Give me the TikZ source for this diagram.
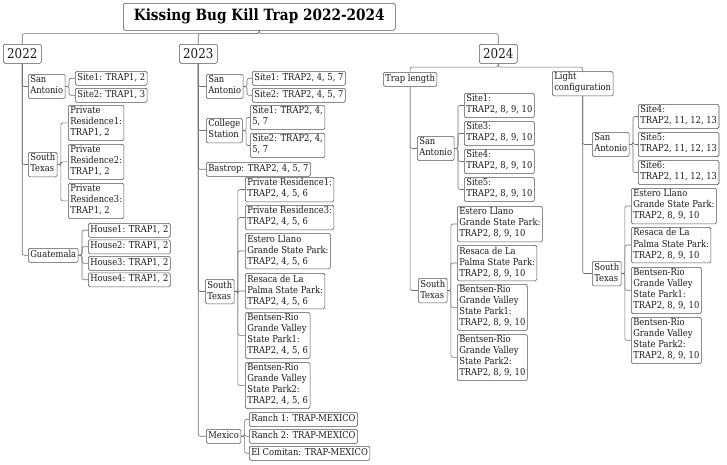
\documentclass[tikz,border=0pt]{standalone}
\usepackage{fontspec}
\setmainfont{DejaVu Serif}[FakeStretch=0.88]
\usetikzlibrary{positioning, calc}

\definecolor{boxgray}{HTML}{505050}
\definecolor{linegray}{HTML}{707070}
\definecolor{inkgray}{HTML}{1A1A1A}

\tikzset{
  topic/.style={draw=boxgray, line width=0.55pt, fill=white, rounded corners=1.5pt,
    anchor=north west, align=left, inner xsep=2pt, inner ysep=1.5pt, text=inkgray,
    font=\fontsize{9.5}{11}\selectfont,
    execute at begin node=\strut, execute at end node=\strut},
  yearbox/.style={draw=boxgray, line width=0.55pt, fill=white, rounded corners=1.5pt,
    anchor=north west, text=inkgray, font=\fontsize{13.5}{15}\selectfont,
    minimum width=38pt, minimum height=19pt, inner sep=0pt},
  link/.style={draw=linegray, line width=0.6pt, rounded corners=2pt},
}

\begin{document}
\begin{tikzpicture}[x=1pt, y=-1pt]
  \useasboundingbox (0,0) rectangle (727,464);

  % Title
  \node[yearbox, minimum width=272pt, minimum height=27pt, text=black,
    font=\fontsize{15.5}{17}\bfseries] (title) at (123,3) {Kissing Bug Kill Trap 2022-2024};
  \coordinate (hub) at ($(title.south)+(0,3)$);

  % Years
  \node[yearbox] (y22) at (3,44) {2022};
  \node[yearbox] (y23) at (179,44) {2023};
  \node[yearbox] (y24) at (479,44) {2024};

  % 2022
  \node[topic] (sa22) at (28,74) {San\\Antonio};
  \node[topic] (sa22s1) at (75,71) {Site1: TRAP1, 2};
  \node[topic] (sa22s2) at (75,88) {Site2: TRAP1, 3};
  \node[topic] (st22) at (28,152) {South\\Texas};
  \node[topic] (st22p1) at (68,105) {Private\\Residence1:\\TRAP1, 2};
  \node[topic] (st22p2) at (68,144) {Private\\Residence2:\\TRAP1, 2};
  \node[topic] (st22p3) at (68,183) {Private\\Residence3:\\TRAP1, 2};
  \node[topic] (gu22) at (28,248) {Guatemala};
  \node[topic] (gu22h1) at (88,223) {House1: TRAP1, 2};
  \node[topic] (gu22h2) at (88,239.5) {House2: TRAP1, 2};
  \node[topic] (gu22h3) at (88,256) {House3: TRAP1, 2};
  \node[topic] (gu22h4) at (88,272.5) {House4: TRAP1, 2};

  % 2023
  \node[topic] (sa23) at (206,74) {San\\Antonio};
  \node[topic] (sa23s1) at (252,71) {Site1: TRAP2, 4, 5, 7};
  \node[topic] (sa23s2) at (252,88) {Site2: TRAP2, 4, 5, 7};
  \node[topic] (cs23) at (206,118) {College\\Station};
  \node[topic] (cs23s1) at (250,105) {Site1: TRAP2, 4,\\5, 7};
  \node[topic] (cs23s2) at (250,133) {Site2: TRAP2, 4,\\5, 7};
  \node[topic] (ba23) at (206,162) {Bastrop: TRAP2, 4, 5, 7};
  \node[topic] (st23) at (205,279) {South\\Texas};
  \node[topic] (st23p1) at (245,177) {Private Residence1:\\TRAP2, 4, 5, 6};
  \node[topic] (st23p3) at (245,205) {Private Residence3:\\TRAP2, 4, 5, 6};
  \node[topic] (st23el) at (245,233) {Estero Llano\\Grande State Park:\\TRAP2, 4, 5, 6};
  \node[topic] (st23rs) at (245,273) {Resaca de La\\Palma State Park:\\TRAP2, 4, 5, 6};
  \node[topic] (st23b1) at (245,312) {Bentsen-Rio\\Grande Valley\\State Park1:\\TRAP2, 4, 5, 6};
  \node[topic] (st23b2) at (245,362) {Bentsen-Rio\\Grande Valley\\State Park2:\\TRAP2, 4, 5, 6};
  \node[topic] (mx23) at (206,429) {Mexico};
  \node[topic] (mx23r1) at (249,412) {Ranch 1: TRAP-MEXICO};
  \node[topic] (mx23r2) at (249,429) {Ranch 2: TRAP-MEXICO};
  \node[topic] (mx23ec) at (249,446) {El Comitan: TRAP-MEXICO};

  % 2024, trap length
  \coordinate (hub24) at ($(y24.south)+(0,3.5)$);
  \node[topic] (tl24) at (383,72) {Trap length};
  \node[topic] (tl24sa) at (417,136) {San\\Antonio};
  \node[topic] (tl24s1) at (464,93) {Site1:\\TRAP2, 8, 9, 10};
  \node[topic] (tl24s3) at (464,121) {Site3:\\TRAP2, 8, 9, 10};
  \node[topic] (tl24s4) at (464,149) {Site4:\\TRAP2, 8, 9, 10};
  \node[topic] (tl24s5) at (464,177) {Site5:\\TRAP2, 8, 9, 10};
  \node[topic] (tl24st) at (418,278) {South\\Texas};
  \node[topic] (tl24el) at (457,206) {Estero Llano\\Grande State Park:\\TRAP2, 8, 9, 10};
  \node[topic] (tl24rs) at (457,245) {Resaca de La\\Palma State Park:\\TRAP2, 8, 9, 10};
  \node[topic] (tl24b1) at (457,284) {Bentsen-Rio\\Grande Valley\\State Park1:\\TRAP2, 8, 9, 10};
  \node[topic] (tl24b2) at (457,334) {Bentsen-Rio\\Grande Valley\\State Park2:\\TRAP2, 8, 9, 10};

  % 2024, light configuration
  \node[topic] (lc24) at (552,71) {Light\\configuration};
  \node[topic] (lc24sa) at (592,132) {San\\Antonio};
  \node[topic] (lc24s4) at (638,104) {Site4:\\TRAP2, 11, 12, 13};
  \node[topic] (lc24s5) at (638,132) {Site5:\\TRAP2, 11, 12, 13};
  \node[topic] (lc24s6) at (638,160) {Site6:\\TRAP2, 11, 12, 13};
  \node[topic] (lc24st) at (592,261) {South\\Texas};
  \node[topic] (lc24el) at (631,188) {Estero Llano\\Grande State Park:\\TRAP2, 8, 9, 10};
  \node[topic] (lc24rs) at (631,227) {Resaca de La\\Palma State Park:\\TRAP2, 8, 9, 10};
  \node[topic] (lc24b1) at (631,267) {Bentsen-Rio\\Grande Valley\\State Park1:\\TRAP2, 8, 9, 10};
  \node[topic] (lc24b2) at (631,317) {Bentsen-Rio\\Grande Valley\\State Park2:\\TRAP2, 8, 9, 10};

  % Links from the title
  \draw[link] (title.south) -- (hub) -| (y22.north);
  \draw[link] (title.south) -- (hub) -| (y23.north);
  \draw[link] (title.south) -- (hub) -| (y24.north);

  % Links from the years
  \foreach \kid in {sa22, st22, gu22}
    \draw[link] (y22.south) |- (\kid.west);
  \foreach \kid in {sa23, cs23, ba23, st23, mx23}
    \draw[link] (y23.south) |- (\kid.west);
  \draw[link] (y24.south) -- (hub24) -| (tl24.north);
  \draw[link] (y24.south) -- (hub24) -| (lc24.north);
  \foreach \kid in {tl24sa, tl24st}
    \draw[link] (tl24.south) |- (\kid.west);
  \foreach \kid in {lc24sa, lc24st}
    \draw[link] (lc24.south) |- (\kid.west);

  % Links to the sites
  \foreach \mom/\kids in {sa22/{sa22s1, sa22s2}, st22/{st22p1, st22p2, st22p3},
      gu22/{gu22h1, gu22h2, gu22h3, gu22h4}, sa23/{sa23s1, sa23s2},
      cs23/{cs23s1, cs23s2}, st23/{st23p1, st23p3, st23el, st23rs, st23b1, st23b2},
      mx23/{mx23r1, mx23r2, mx23ec}, tl24sa/{tl24s1, tl24s3, tl24s4, tl24s5},
      tl24st/{tl24el, tl24rs, tl24b1, tl24b2}, lc24sa/{lc24s4, lc24s5, lc24s6},
      lc24st/{lc24el, lc24rs, lc24b1, lc24b2}}
    \foreach \kid in \kids
      \draw[link] (\mom.east) -- ++(3.5,0) |- (\kid.west);
\end{tikzpicture}
\end{document}
